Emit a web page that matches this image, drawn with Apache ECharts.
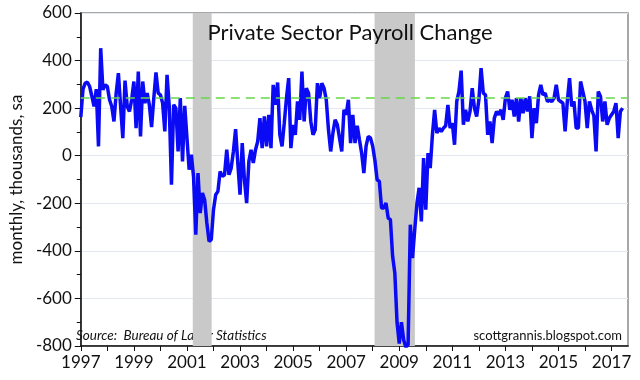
<!DOCTYPE html>
<html><head><meta charset="utf-8">
<script src="https://cdn.jsdelivr.net/npm/echarts@6/dist/echarts.min.js"></script>
<style>html,body{margin:0;padding:0;background:#fff}#c{width:640px;height:380px}</style>
</head><body><div id="c"></div>
<script>
const startYear = 1997;
const payrollChange = [
 162,280,305,309,291,250,207,280,39,452,277,298,
 291,235,207,144,263,347,207,74,316,207,186,235,
 312,116,354,81,312,221,263,214,120,240,350,263,
 256,221,102,340,207,-122,214,200,18,242,-24,210,
 75,-59,4,-90,-332,-73,-241,-157,-185,-283,-360,-353,
 -227,-164,-150,-66,-87,-80,25,-80,-52,18,112,-31,
 -164,53,-101,-199,-24,25,-31,25,60,158,32,165,
 39,172,32,298,214,308,88,39,137,242,326,32,
 130,88,228,151,354,144,284,263,144,88,109,305,
 242,305,284,235,109,18,95,151,130,74,18,193,
 172,235,53,172,53,126,67,11,-73,40,81,75,
 40,-20,-101,-108,-220,-220,-199,-262,-269,-423,-493,-700,
 -790,-700,-775,-805,-795,-290,-430,-311,-200,-135,-276,-10,
 -227,11,-52,88,193,95,116,102,116,126,214,116,
 137,46,228,270,358,130,193,144,186,284,200,165,
 235,368,263,256,88,144,53,158,186,172,193,151,
 242,270,193,235,165,242,144,242,179,242,186,250,
 74,200,137,256,298,256,263,228,235,228,242,298,
 235,228,221,102,228,326,207,228,116,116,312,270,
 228,116,228,193,168,18,270,249,144,228,130,158,
 172,186,221,74,186,200
];
const recessions = [[2001.22, 2001.93], [2008.07, 2009.59]];
const trendLevel = 245;
const titleText = 'Private Sector Payroll Change';
const yAxisName = 'monthly, thousands, sa';
const sourceText = 'Source:  Bureau of Labor Statistics';
const creditText = 'scottgrannis.blogspot.com';

const FONT = 'Lato, "Open Sans", sans-serif';
const points = payrollChange.map((v, i) => [startYear + i / 12, v]);

const chart = echarts.init(document.getElementById('c'));
chart.setOption({
  animation: false,
  grid: { left: 71, right: 12, top: 13, bottom: 34, show: true, borderColor: '#8c8c8c', borderWidth: 1.5 },
  title: { text: titleText, left: 345, top: 17, textAlign: 'center',
    textStyle: { fontFamily: FONT, fontSize: 22, fontWeight: 'normal', color: '#111' } },
  xAxis: {
    type: 'value', min: 1997, max: 2017.62, interval: 1,
    axisLine: { onZero: false, lineStyle: { color: '#111', width: 1.5 } },
    axisTick: { length: 5, lineStyle: { color: '#111' } },
    axisLabel: {
      formatter: v => (Math.abs(v - Math.round(v)) < 1e-6 && Math.round(v) % 2 === 1) ? String(Math.round(v)) : '',
      fontSize: 17, color: '#111', margin: 8, fontFamily: FONT, showMaxLabel: false
    },
    splitLine: { show: false }
  },
  yAxis: {
    type: 'value', min: -800, max: 600, interval: 200,
    name: yAxisName, nameLocation: 'middle', nameGap: 50,
    nameTextStyle: { fontSize: 17, color: '#111', fontFamily: FONT },
    axisLine: { show: true, lineStyle: { color: '#111', width: 1.5 } },
    axisTick: { show: true, length: 6, lineStyle: { color: '#111' } },
    minorTick: { show: true, splitNumber: 2, length: 4, lineStyle: { color: '#111' } },
    axisLabel: { fontSize: 17, color: '#111', margin: 9, fontFamily: FONT },
    splitLine: { lineStyle: { color: '#e3e8ee', width: 1 } }
  },
  series: [{
    type: 'line', data: points, showSymbol: false, symbol: 'none', clip: true,
    lineStyle: { color: '#0a0af5', width: 3.5 },
    markArea: { silent: true, itemStyle: { color: '#c9c9c9' },
      data: recessions.map(r => [{ xAxis: r[0] }, { xAxis: r[1] }]) },
    markLine: { silent: true, symbol: 'none', label: { show: false },
      lineStyle: { color: '#66d64a', type: [9, 6], width: 1.5 },
      data: [{ yAxis: trendLevel }] }
  }],
  graphic: [
    { type: 'text', left: 76, top: 329, style: { text: sourceText, font: 'italic 13.5px Lato', fill: '#111' } },
    { type: 'text', right: 18, top: 329, style: { text: creditText, font: '13px Lato', fill: '#111' } }
  ]
});
</script>
</body></html>
